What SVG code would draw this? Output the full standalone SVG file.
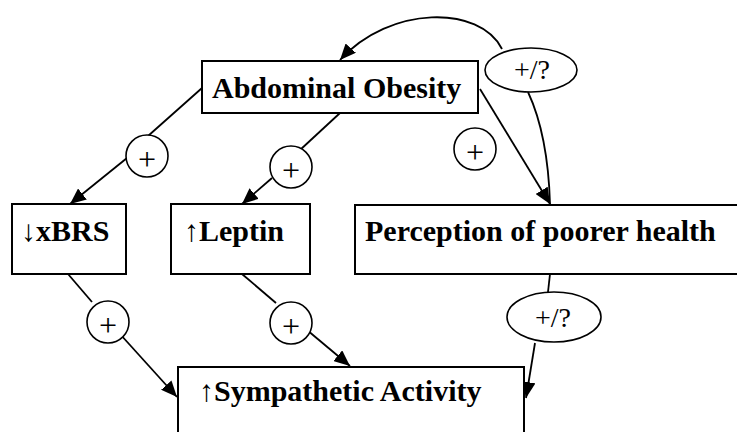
<svg xmlns="http://www.w3.org/2000/svg" width="737" height="432" viewBox="0 0 737 432">
<style>
.box{fill:#fff;stroke:#000;stroke-width:2}
.lbl{font-family:"Liberation Serif","Times New Roman",serif;font-weight:bold;font-size:30px;fill:#000}
.sign{font-family:"Liberation Serif","Times New Roman",serif;font-size:32px;fill:#000;text-anchor:middle}
.q{font-size:28px}
.badge{fill:#fff;stroke:#000;stroke-width:1.6}
.ln{fill:none;stroke:#000;stroke-width:1.8}
.arr{marker-end:url(#ah)}
</style>
<defs>
<marker id="ah" markerUnits="userSpaceOnUse" markerWidth="18" markerHeight="14" refX="16" refY="7" orient="auto">
<path d="M0,0 L16,7 L0,14 Z" fill="#000"/>
</marker>
</defs>
<rect width="737" height="432" fill="#fff"/>
<g id="connectors">
<line class="ln" x1="202" y1="88" x2="148" y2="136"/>
<line class="ln arr" x1="127" y1="158" x2="70" y2="204"/>
<line class="ln" x1="340" y1="113" x2="300" y2="150"/>
<line class="ln arr" x1="272" y1="178" x2="242" y2="204"/>
<line class="ln arr" x1="480" y1="89" x2="550" y2="204"/>
<path class="ln" d="M550,204 Q548,135 528,92"/>
<path class="ln arr" d="M502,49 C480,5 390,5 340,60"/>
<line class="ln" x1="68" y1="274" x2="92" y2="302"/>
<line class="ln arr" x1="120" y1="334" x2="177" y2="397"/>
<line class="ln" x1="242" y1="274" x2="276" y2="303"/>
<line class="ln arr" x1="307" y1="330" x2="350" y2="366"/>
<line class="ln" x1="550" y1="274" x2="548" y2="292"/>
<line class="ln arr" x1="535" y1="343" x2="526" y2="398"/>
</g>
<g id="abdominal-obesity">
<rect class="box" x="202" y="61" width="276" height="52"/>
<text class="lbl" x="212" y="98">Abdominal Obesity</text>
</g>
<g id="xbrs">
<rect class="box" x="12" y="204" width="114" height="70"/>
<text class="lbl" x="21" y="241">↓xBRS</text>
</g>
<g id="leptin">
<rect class="box" x="171" y="204" width="139" height="70"/>
<text class="lbl" x="184" y="241">↑Leptin</text>
</g>
<g id="perception">
<rect class="box" x="355" y="205" width="392" height="69"/>
<text class="lbl" x="365" y="241">Perception of poorer health</text>
</g>
<g id="sympathetic">
<rect class="box" x="178" y="367" width="346" height="80"/>
<text class="lbl" x="199" y="401">↑Sympathetic Activity</text>
</g>
<g id="sign1">
<circle class="badge" cx="147" cy="156" r="21"/>
<text class="sign" x="147" y="170">+</text>
</g>
<g id="sign2">
<circle class="badge" cx="291" cy="167" r="21"/>
<text class="sign" x="291" y="181">+</text>
</g>
<g id="sign3">
<circle class="badge" cx="475" cy="149" r="21"/>
<text class="sign" x="475" y="163">+</text>
</g>
<g id="sign4">
<circle class="badge" cx="108" cy="322" r="21"/>
<text class="sign" x="108" y="336">+</text>
</g>
<g id="sign5">
<circle class="badge" cx="291" cy="323" r="21"/>
<text class="sign" x="291" y="337">+</text>
</g>
<g id="sign6">
<ellipse class="badge" cx="531" cy="70" rx="46" ry="22"/>
<text class="sign q" x="532" y="79">+/?</text>
</g>
<g id="sign7">
<ellipse class="badge" cx="554" cy="317" rx="47" ry="25"/>
<text class="sign q" x="553" y="327">+/?</text>
</g>
</svg>
